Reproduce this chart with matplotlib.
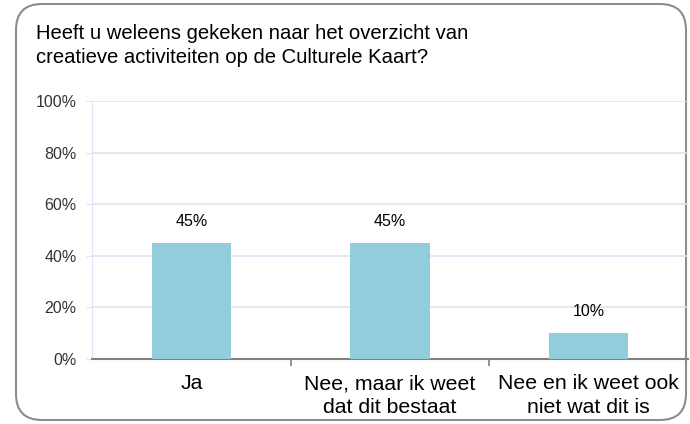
import matplotlib.pyplot as plt
from matplotlib.patches import FancyBboxPatch
from matplotlib.transforms import IdentityTransform
from matplotlib.ticker import FuncFormatter

plt.rcParams['font.family'] = ['Liberation Sans', 'DejaVu Sans']

title = "Heeft u weleens gekeken naar het overzicht van\ncreatieve activiteiten op de Culturele Kaart?"
categories = ["Ja", "Nee, maar ik weet\ndat dit bestaat", "Nee en ik weet ook\nniet wat dit is"]
values = [45, 45, 10]
yticks = [0, 20, 40, 60, 80, 100]

fig = plt.figure(figsize=(6.9, 4.24), dpi=100)

# rounded frame round the whole chart (pixel coords)
frame = FancyBboxPatch((16, 4), 670, 416,
                       boxstyle="round,pad=0,rounding_size=26",
                       transform=IdentityTransform(), facecolor='white',
                       edgecolor='#8c8c8c', linewidth=1.5, zorder=-5)
fig.patches.append(frame)

fig.text(36 / 690, 1 - 24 / 424, title, fontsize=14.6, va='top', ha='left',
         linespacing=1.33, color='black')

ax = fig.add_axes([92 / 690, 1 - 359 / 424, 596 / 690, 258 / 424])
ax.set_facecolor('none')
x = range(len(categories))
ax.bar(x, values, width=0.4, color='#92CDDC', zorder=3)
for xi, v in zip(x, values):
    ax.text(xi, v + 5.5, "{}%".format(v), ha='center', va='bottom', fontsize=11.5)

ax.set_xlim(-0.5, len(categories) - 0.5)
ax.set_ylim(0, 100)
ax.set_yticks(yticks)
ax.yaxis.set_major_formatter(FuncFormatter(lambda v, p: "{:.0f}%".format(v)))
ax.grid(axis='y', color='#dce6f2', linewidth=1.2, zorder=0)
ax.set_xticks(x)
ax.set_xticklabels(categories, fontsize=15.3, linespacing=1.3)
ax.set_xticks([0.5, 1.5], minor=True)
ax.tick_params(axis='x', which='major', length=0, pad=11)
ax.tick_params(axis='x', which='minor', length=5, color='#808080', width=1.2)
ax.tick_params(axis='y', length=4, color='#dce6f2', labelsize=11.5, labelcolor='#333333', pad=7)

for side in ['top', 'right']:
    ax.spines[side].set_visible(False)
ax.spines['left'].set_color('#dce6f2')
ax.spines['bottom'].set_color('#808080')
ax.spines['bottom'].set_linewidth(1.5)

fig.savefig('out.png', dpi=100)
